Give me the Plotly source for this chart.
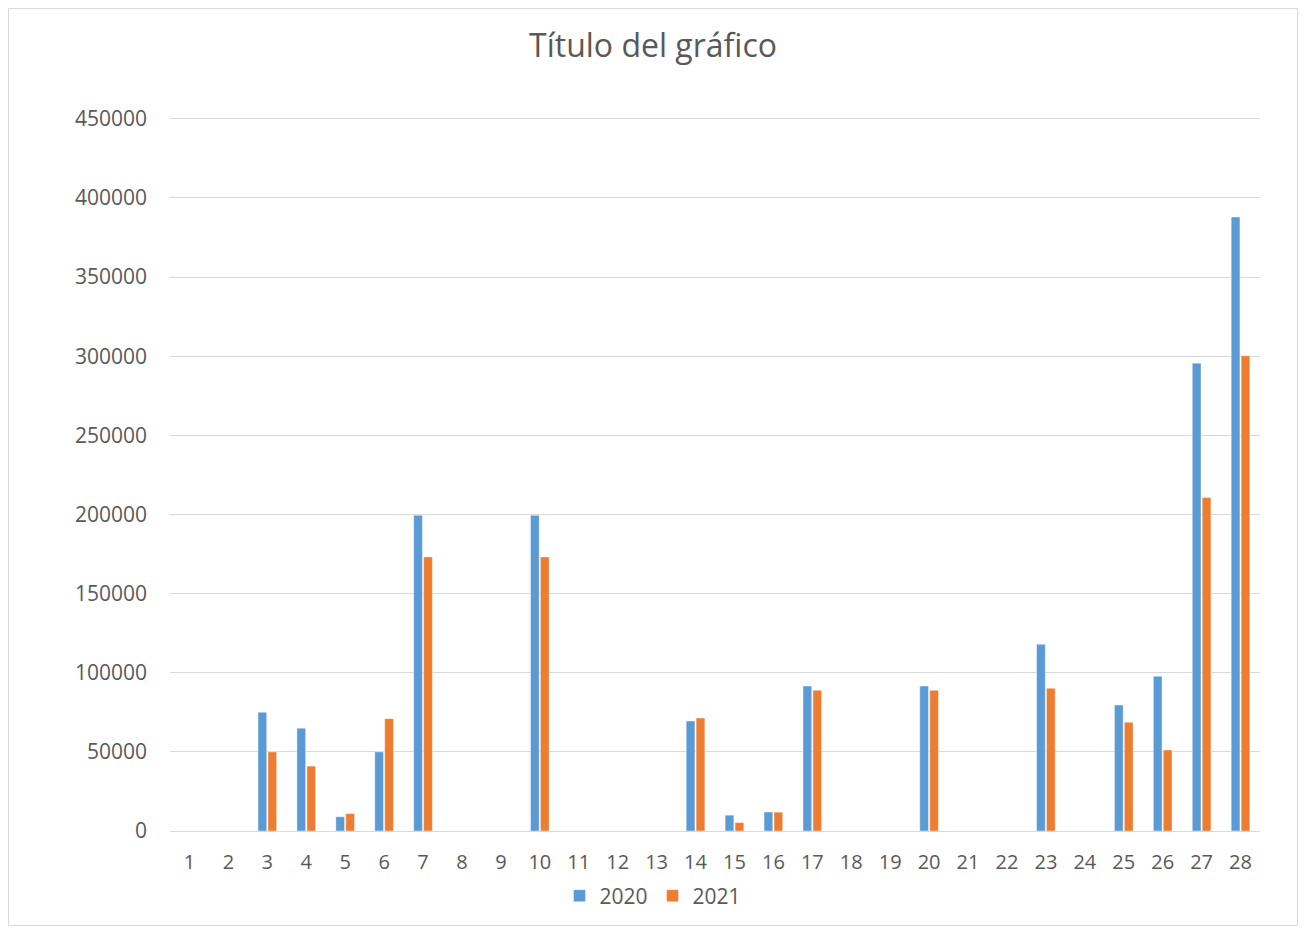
import plotly.graph_objects as go

categories = [str(i) for i in range(1, 29)]

sales_2020 = [0, 0, 75000, 65000, 9000, 50000, 199500, 0, 0, 199500,
              0, 0, 0, 69500, 10000, 12000, 91600, 0, 0, 91600,
              0, 0, 118000, 0, 79600, 97800, 295600, 388000]
sales_2021 = [0, 0, 50000, 41000, 11000, 71000, 173200, 0, 0, 173200,
              0, 0, 0, 71400, 5300, 11900, 88900, 0, 0, 88900,
              0, 0, 90200, 0, 68700, 51200, 210800, 300300]

y_ticks = list(range(0, 450001, 50000))

BLUE = "#5B9BD5"
ORANGE = "#ED7D31"
TEXT = "#595959"
GRID = "#D9D9D9"

# page body has an 8px margin, so the figure is sized to fit inside it
W, H = 1290, 918
L, R, T, B = 162, 38, 108, 95
PW, PH = W - L - R, H - T - B

fig = go.Figure()
fig.add_trace(go.Bar(x=categories, y=sales_2020, name="2020",
                     marker=dict(color=BLUE, line=dict(width=0.7, color="rgba(255,255,255,0.6)"))))
fig.add_trace(go.Bar(x=categories, y=sales_2021, name="2021",
                     marker=dict(color=ORANGE, line=dict(width=0.7, color="rgba(255,255,255,0.6)"))))

fig.update_layout(
    width=W, height=H,
    barmode="group", bargap=0.49, bargroupgap=0.12,
    paper_bgcolor="white", plot_bgcolor="white",
    font=dict(family="Open Sans", color=TEXT, size=20),
    margin=dict(l=L, r=R, t=T, b=B, autoexpand=False),
    title=dict(text="Título del gráfico", x=0.5, xref="container", xanchor="center",
               y=1 - 38 / H, yref="container", yanchor="middle",
               font=dict(family="Open Sans", size=32, color=TEXT)),
    legend=dict(orientation="h", x=0.5, xref="container", xanchor="center",
                y=1 - 888 / H, yref="container", yanchor="middle",
                font=dict(size=21, color=TEXT), itemwidth=30, traceorder="normal"),
    xaxis=dict(type="category", showgrid=False, zeroline=False, automargin=False,
               showline=True, linecolor=GRID, linewidth=1,
               ticks="", ticklabelstandoff=13, tickfont=dict(size=20, color=TEXT)),
    yaxis=dict(range=[0, 451800], tickvals=y_ticks, tickformat="d", automargin=False,
               showgrid=True, gridcolor=GRID, gridwidth=1, zeroline=False,
               ticks="", ticklabelstandoff=22, tickfont=dict(size=21, color=TEXT)),
    shapes=[dict(type="rect", xref="paper", yref="paper",
                 x0=-(L - 0.5) / PW, x1=(W - L - 0.5) / PW,
                 y0=-(B - 0.5) / PH, y1=(H - B - 0.5) / PH,
                 line=dict(color=GRID, width=1), fillcolor="rgba(0,0,0,0)", layer="below")],
)

fig.write_html("out.html")
